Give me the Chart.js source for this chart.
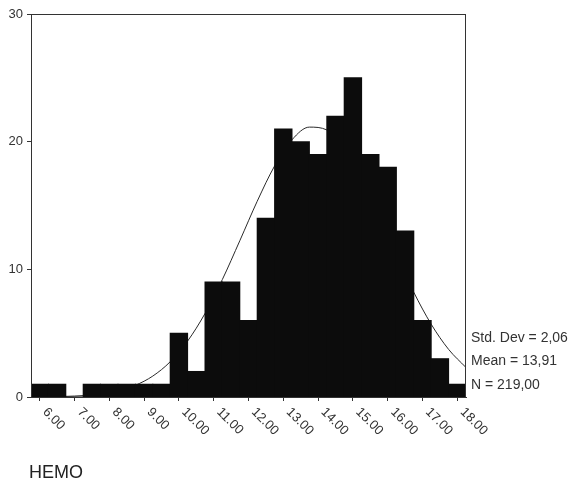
<!DOCTYPE html>
<html>
<head>
<meta charset="utf-8">
<script src="https://cdn.jsdelivr.net/npm/chart.js@4"></script>
<style>
  html, body { margin: 0; padding: 0; background: #fff; }
</style>
</head>
<body>
<canvas id="hemoChart" width="574" height="486"></canvas>
<script>
// histogram bins (width 0.5) and frequencies
const binCenters = [6.0, 6.5, 7.0, 7.5, 8.0, 8.5, 9.0, 9.5, 10.0, 10.5, 11.0, 11.5, 12.0,
                    12.5, 13.0, 13.5, 14.0, 14.5, 15.0, 15.5, 16.0, 16.5, 17.0, 17.5, 18.0];
const counts = [1, 1, 0, 1, 1, 1, 1, 1, 5, 2, 9, 9, 6,
                14, 21, 20, 19, 22, 25, 19, 18, 13, 6, 3, 1];

// fitted normal curve (mean 13,91, sd 2,06, N 219)
const curveX = [5.75, 6.25, 6.75, 7.25, 7.75, 8.25, 8.75, 9.25, 9.75, 10.25, 10.75, 11.25, 11.75,
                12.25, 12.75, 13.25, 13.75, 14.25, 14.75, 15.25, 15.75, 16.25, 16.75, 17.25, 17.75, 18.25];
const curveY = [0.01, 0.02, 0.05, 0.11, 0.24, 0.49, 0.92, 1.64, 2.76, 4.38, 6.54, 9.21, 12.24,
                15.33, 18.10, 20.15, 21.14, 20.92, 19.52, 17.16, 14.23, 11.12, 8.20, 5.70, 3.73, 2.31];

const tickValues = [6, 7, 8, 9, 10, 11, 12, 13, 14, 15, 16, 17, 18];
const tickLabels = ['6.00', '7.00', '8.00', '9.00', '10.00', '11.00', '12.00',
                    '13.00', '14.00', '15.00', '16.00', '17.00', '18.00'];
const yTicks = [0, 10, 20, 30];

const statLines = ['Std. Dev = 2,06', 'Mean = 13,91', 'N = 219,00'];
const axisTitle = 'HEMO';

const FONT = '"Liberation Sans", Arial, sans-serif';
const INK = '#333';

const decorations = {
  id: 'decorations',
  afterDraw(chart) {
    const { ctx, chartArea: a, scales: { x } } = chart;
    ctx.save();
    // box around the plot
    ctx.strokeStyle = INK;
    ctx.lineWidth = 1;
    ctx.strokeRect(Math.round(a.left) + 0.5, Math.round(a.top) + 0.5,
                   Math.round(a.right - a.left) - 1, Math.round(a.bottom - a.top));

    // slanted x tick labels
    ctx.fillStyle = INK;
    ctx.font = '13px ' + FONT;
    ctx.textAlign = 'left';
    ctx.textBaseline = 'middle';
    tickValues.forEach((v, i) => {
      const px = x.getPixelForValue(v);
      ctx.save();
      ctx.translate(px + 5, a.bottom + 13);
      ctx.rotate(Math.PI / 4);
      ctx.fillText(tickLabels[i], 0, 0);
      ctx.restore();
    });

    // summary statistics
    ctx.font = '14px ' + FONT;
    statLines.forEach((t, i) => {
      ctx.fillText(t, a.right + 5, a.bottom - 59 + i * 23.5);
    });

    // axis title
    ctx.font = '18px ' + FONT;
    ctx.fillStyle = '#222';
    ctx.fillText(axisTitle, 29, 473);
    ctx.restore();
  }
};

new Chart(document.getElementById('hemoChart'), {
  type: 'bar',
  data: {
    datasets: [{
      label: 'HEMO',
      data: binCenters.map((v, i) => ({ x: v, y: counts[i] })),
      backgroundColor: '#0c0c0c',
      borderWidth: 0,
      barPercentage: 1,
      categoryPercentage: 1,
      inflateAmount: 0.5,
      order: 0
    }, {
      // drawn underneath the bars, so it only shows over empty space
      type: 'line',
      label: 'Normal',
      data: curveX.map((v, i) => ({ x: v, y: curveY[i] })),
      borderColor: '#2a2a2a',
      borderWidth: 1,
      pointRadius: 0,
      cubicInterpolationMode: 'monotone',
      order: 1
    }]
  },
  options: {
    responsive: false,
    animation: false,
    layout: { padding: { top: 14, right: 108, left: 0, bottom: 0 } },
    plugins: {
      legend: { display: false },
      tooltip: { enabled: false }
    },
    scales: {
      x: {
        type: 'linear',
        min: 5.75,
        max: 18.25,
        offset: false,
        afterBuildTicks: s => { s.ticks = tickValues.map(v => ({ value: v })); },
        afterFit: s => { s.height = 89; },
        ticks: { display: false },
        grid: { drawOnChartArea: false, offset: false, tickLength: 4, color: INK },
        border: { color: INK }
      },
      y: {
        min: 0,
        max: 30,
        afterBuildTicks: s => { s.ticks = yTicks.map(v => ({ value: v })); },
        afterFit: s => { s.width = 31; },
        ticks: { color: INK, padding: 4, font: { family: FONT, size: 13 } },
        grid: { drawOnChartArea: false, tickLength: 4, color: INK },
        border: { color: INK }
      }
    }
  },
  plugins: [decorations]
});
</script>
</body>
</html>
